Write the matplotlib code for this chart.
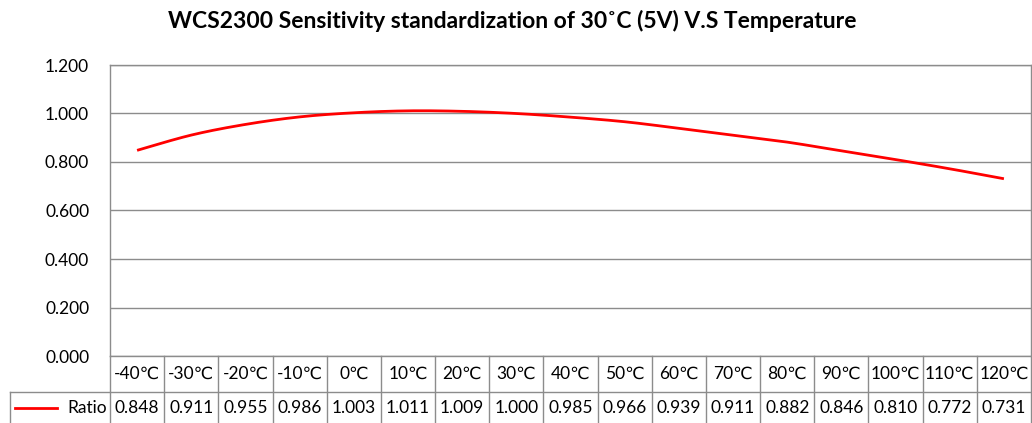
import numpy as np
import matplotlib
matplotlib.use("Agg")
import matplotlib.pyplot as plt
from matplotlib.transforms import blended_transform_factory
from matplotlib.lines import Line2D

categories = ["-40℃", "-30℃", "-20℃", "-10℃", "0℃", "10℃", "20℃", "30℃", "40℃",
              "50℃", "60℃", "70℃", "80℃", "90℃", "100℃", "110℃", "120℃"]
ratio = [0.848, 0.911, 0.955, 0.986, 1.003, 1.011, 1.009, 1.000, 0.985,
         0.966, 0.939, 0.911, 0.882, 0.846, 0.810, 0.772, 0.731]
series_name = "Ratio"
title = "WCS2300 Sensitivity standardization of 30˚C (5V) V.S Temperature"
yticks = [0.0, 0.2, 0.4, 0.6, 0.8, 1.0, 1.2]

plt.rcParams['font.family'] = ['Lato', 'DejaVu Sans']
W, H = 1032, 423
fig = plt.figure(figsize=(W / 100, H / 100), dpi=100)
L, R, T, B = 110, 1031, 65, 356
ax = fig.add_axes([L / W, 1 - B / H, (R - L) / W, (B - T) / H])

n = len(categories)
x = np.arange(n)
y = np.array(ratio)

# smooth curve (Catmull-Rom through data points, like Excel smoothed line)
def catmull(xp, yp, steps=20):
    pts = np.column_stack([xp, yp]).astype(float)
    P = np.vstack([pts[0], pts, pts[-1]])
    out = []
    for i in range(1, len(P) - 2):
        p0, p1, p2, p3 = P[i - 1], P[i], P[i + 1], P[i + 2]
        for t in np.linspace(0, 1, steps, endpoint=False):
            t2, t3 = t * t, t * t * t
            out.append(0.5 * ((2 * p1) + (-p0 + p2) * t + (2 * p0 - 5 * p1 + 4 * p2 - p3) * t2
                              + (-p0 + 3 * p1 - 3 * p2 + p3) * t3))
    out.append(pts[-1])
    out = np.array(out)
    return out[:, 0], out[:, 1]

sx, sy = catmull(x, y)
ax.plot(sx, sy, color="#FF0000", lw=2, solid_capstyle="butt", zorder=3)

fs = 12.5
ax.set_xlim(-0.5, n - 0.5)
ax.set_ylim(0, 1.2)
ax.set_yticks(yticks)
ax.set_yticklabels([f"{v:.3f}" for v in yticks], fontsize=fs)
ax.set_xticks([])
ax.tick_params(axis="y", length=0, pad=15)
ax.grid(axis="y", color="#8C8C8C", lw=1)
ax.set_axisbelow(True)
for s in ax.spines.values():
    s.set_color("#8C8C8C")
    s.set_linewidth(1)

fig.text(512 / W, 1 - 21 / H, title, ha="center", va="center", fontsize=16.5, fontweight="bold")

# data table below the plot
gc = "#8C8C8C"
ph = B - T
row1 = -(392 - B) / ph
row2 = -(423 - B) / ph
tr = blended_transform_factory(ax.transData, ax.transAxes)
for i in range(n + 1):
    ax.add_line(Line2D([i - 0.5, i - 0.5], [0, row2 - 0.05], transform=tr, color=gc, lw=1, clip_on=False))
xleft = ax.transData.inverted().transform((10, 0))[0]
ax.add_line(Line2D([xleft, n - 0.5], [row1, row1], transform=tr, color=gc, lw=1, clip_on=False))
ax.add_line(Line2D([xleft, xleft], [row1, row2 - 0.05], transform=tr, color=gc, lw=1, clip_on=False))
for i, (c, v) in enumerate(zip(categories, ratio)):
    ax.text(i, row1 / 2, c, transform=tr, ha="center", va="center", fontsize=fs)
    ax.text(i, (row1 + row2) / 2, f"{v:.3f}", transform=tr, ha="center", va="center", fontsize=fs)
# legend key in table
ax.add_line(Line2D([xleft + 0.09, xleft + 0.86], [(row1 + row2) / 2] * 2, transform=tr,
                   color="#FF0000", lw=2, clip_on=False))
ax.text(-0.56, (row1 + row2) / 2, series_name, transform=tr, ha="right", va="center", fontsize=fs)

fig.savefig("out.png", dpi=100)
